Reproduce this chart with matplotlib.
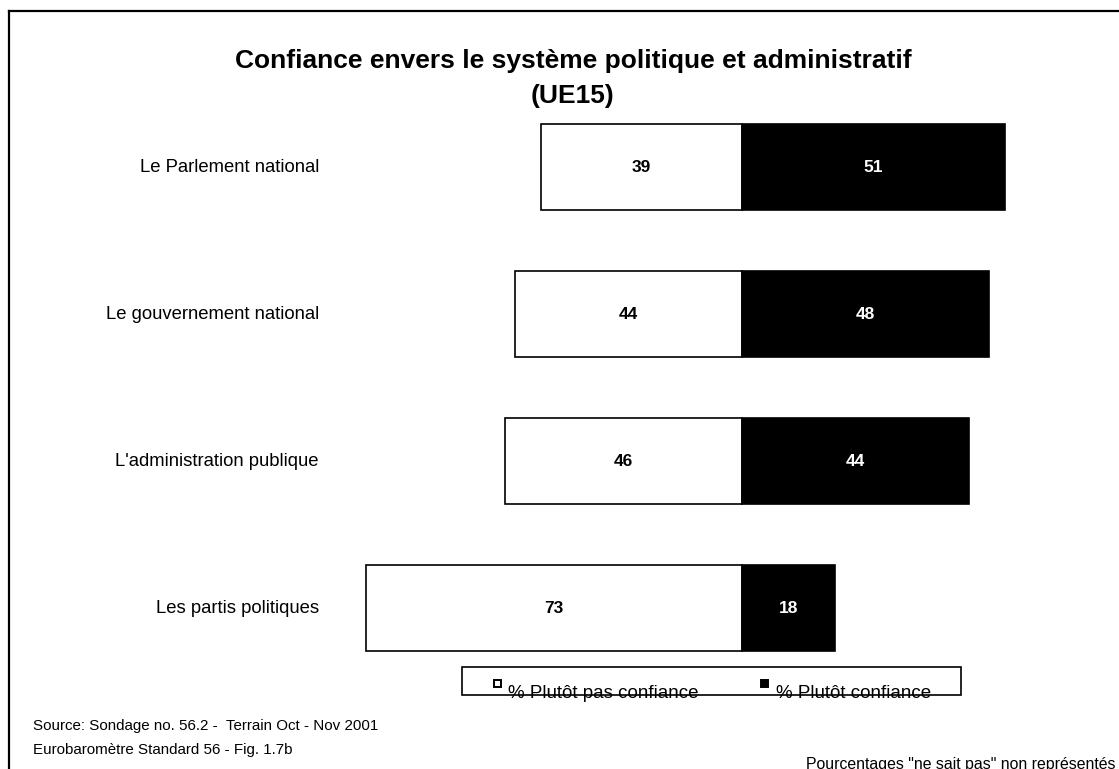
import matplotlib.pyplot as plt
from matplotlib.patches import Rectangle
from matplotlib.lines import Line2D

plt.rcParams['font.family'] = ['Liberation Sans', 'DejaVu Sans']

# Données : confiance envers les institutions (UE15)
institutions = ['Le Parlement national', 'Le gouvernement national',
                "L'administration publique", 'Les partis politiques']
pas_confiance = [39, 44, 46, 73]
confiance = [51, 48, 44, 18]

W, H = 1119, 769
fig = plt.figure(figsize=(W / 100, H / 100), dpi=100)
ax = fig.add_axes([0, 0, 1, 1])

# échelle : 5.15 px par point de pourcentage, axe central à 742 px
px_per_unit = 5.15
x0 = 742
ax.set_xlim(-x0 / px_per_unit, (W - x0) / px_per_unit)
row_px, first_px = 147, 167
ax.set_ylim((H - first_px) / row_px, -first_px / row_px)
ax.axis('off')

y = range(len(institutions))
h = 86 / row_px
ax.barh(y, [-v for v in pas_confiance], height=h, color='white',
        edgecolor='black', linewidth=1.2)
ax.barh(y, confiance, height=h, color='black', edgecolor='black', linewidth=1.2)

for i, (a, b) in enumerate(zip(pas_confiance, confiance)):
    ax.text(-a / 2, i, str(a), ha='center', va='center', fontsize=12.5,
            fontweight='bold', color='black')
    ax.text(b / 2, i, str(b), ha='center', va='center', fontsize=12.5,
            fontweight='bold', color='white')
    ax.text(-(x0 - 319) / px_per_unit, i, institutions[i], ha='right',
            va='center', fontsize=13.3)

# titre
fig.text(573 / W, 1 - 61 / H, 'Confiance envers le système politique et administratif',
         ha='center', va='center', fontsize=19, fontweight='bold')
fig.text(573 / W, 1 - 96 / H, '(UE15)', ha='center', va='center',
         fontsize=19, fontweight='bold')

# cadre extérieur
fig.add_artist(Line2D([9 / W, 9 / W], [0, 1 - 11 / H], color='black', lw=1.6))
fig.add_artist(Line2D([9 / W, 1], [1 - 11 / H, 1 - 11 / H], color='black', lw=1.6))

# légende
fig.add_artist(Rectangle((462 / W, 1 - 695 / H), 499 / W, 28 / H,
                         facecolor='white', edgecolor='black', lw=1.2, zorder=1))
fig.add_artist(Rectangle((494 / W, 1 - 687 / H), 7 / W, 7 / H,
                         facecolor='white', edgecolor='black', lw=1.4))
fig.add_artist(Rectangle((761 / W, 1 - 687 / H), 7 / W, 7 / H,
                         facecolor='black', edgecolor='black', lw=1.4))
fig.text(508 / W, 1 - 693 / H, '% Plutôt pas confiance', ha='left',
         va='center', fontsize=13.5, zorder=3)
fig.text(776 / W, 1 - 693 / H, '% Plutôt confiance', ha='left',
         va='center', fontsize=13.5, zorder=3)

# notes de bas de page
fig.text(33 / W, 1 - 726 / H, 'Source: Sondage no. 56.2 -  Terrain Oct - Nov 2001',
         ha='left', va='center', fontsize=10.9)
fig.text(33 / W, 1 - 750 / H, 'Eurobaromètre Standard 56 - Fig. 1.7b',
         ha='left', va='center', fontsize=10.9)
fig.text(806 / W, 1 - 765 / H, 'Pourcentages "ne sait pas" non représentés',
         ha='left', va='center', fontsize=11.4)

fig.savefig('out.png', dpi=100)
